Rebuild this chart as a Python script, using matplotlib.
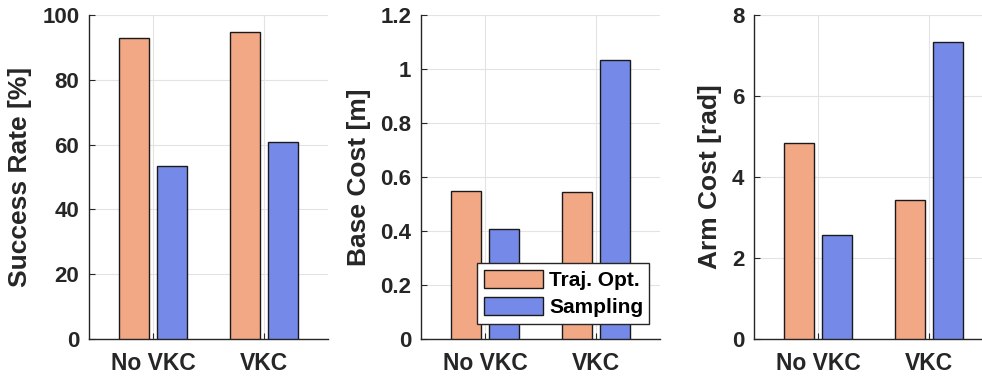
import matplotlib
matplotlib.use("Agg")
import matplotlib.pyplot as plt
import numpy as np
from matplotlib.ticker import FuncFormatter

categories = ["No VKC", "VKC"]
series = ["Traj. Opt.", "Sampling"]
success_traj = [92.8, 94.7]
success_samp = [53.3, 60.9]
base_traj = [0.547, 0.543]
base_samp = [0.406, 1.032]
arm_traj = [4.85, 3.44]
arm_samp = [2.57, 7.33]

ylabels = ["Success Rate [%]", "Base Cost [m]", "Arm Cost [rad]"]
ylims = [(0, 100), (0, 1.2), (0, 8)]
yticks = [np.arange(0, 101, 20), np.arange(0, 1.21, 0.2), np.arange(0, 8.1, 2)]

c_traj = "#F2A785"
c_samp = "#7589E8"

plt.rcParams['font.family'] = ['Liberation Sans', 'DejaVu Sans']
plt.rcParams['font.weight'] = 'bold'

fig = plt.figure(figsize=(9.82, 3.79), dpi=100)
lefts = [89, 421, 754]
W, H = 982.0, 379.0
axw = 239
data = [(success_traj, success_samp), (base_traj, base_samp), (arm_traj, arm_samp)]

x = np.arange(1, len(categories) + 1)
bw = 0.27
off = 0.168
for i in range(3):
    ax = fig.add_axes([lefts[i] / W, 40 / H, axw / W, 324 / H])
    t, s = data[i]
    ax.bar(x - off, t, bw, color=c_traj, edgecolor="#1a1a1a", linewidth=1.0, label=series[0], zorder=3)
    ax.bar(x + off, s, bw, color=c_samp, edgecolor="#1a1a1a", linewidth=1.0, label=series[1], zorder=3)
    ax.set_xlim(0.423, 2.577)
    ax.set_ylim(*ylims[i])
    ax.set_yticks(yticks[i])
    ax.yaxis.set_major_formatter(FuncFormatter(lambda v, p: "%g" % round(v, 6)))
    ax.set_xticks(x)
    ax.set_xticklabels(categories)
    ax.grid(True, color="#E3E3E3", linewidth=0.8, zorder=0)
    ax.set_axisbelow(True)
    for sp in ["top", "right"]:
        ax.spines[sp].set_visible(False)
    for sp in ["left", "bottom"]:
        ax.spines[sp].set_color("#262626")
        ax.spines[sp].set_linewidth(1.0)
    ax.tick_params(axis="y", direction="in", length=4, width=0.8, color="#262626",
                   labelsize=16, labelcolor="#262626", pad=7)
    ax.tick_params(axis="x", direction="in", length=4, width=0.8, color="#262626",
                   labelsize=16.5, labelcolor="#262626", pad=9)
    for lab in ax.get_xticklabels() + ax.get_yticklabels():
        lab.set_fontweight("bold")
    ax.set_ylabel(ylabels[i], fontsize=19, fontweight="bold", color="#262626", labelpad=7)
    if i == 1:
        leg = ax.legend(loc="lower left", bbox_to_anchor=(0.235, 0.046, 0.72, 0.19),
                        mode="expand", fontsize=15, frameon=True, fancybox=False,
                        framealpha=1, edgecolor="#262626", handlelength=2.8,
                        handleheight=0.95, borderaxespad=0, borderpad=0.35,
                        labelspacing=0.3, handletextpad=0.3)
        leg.get_frame().set_linewidth(1.0)
        for txt in leg.get_texts():
            txt.set_fontweight("bold")
        leg.set_zorder(5)

fig.savefig("out.png", dpi=100)
